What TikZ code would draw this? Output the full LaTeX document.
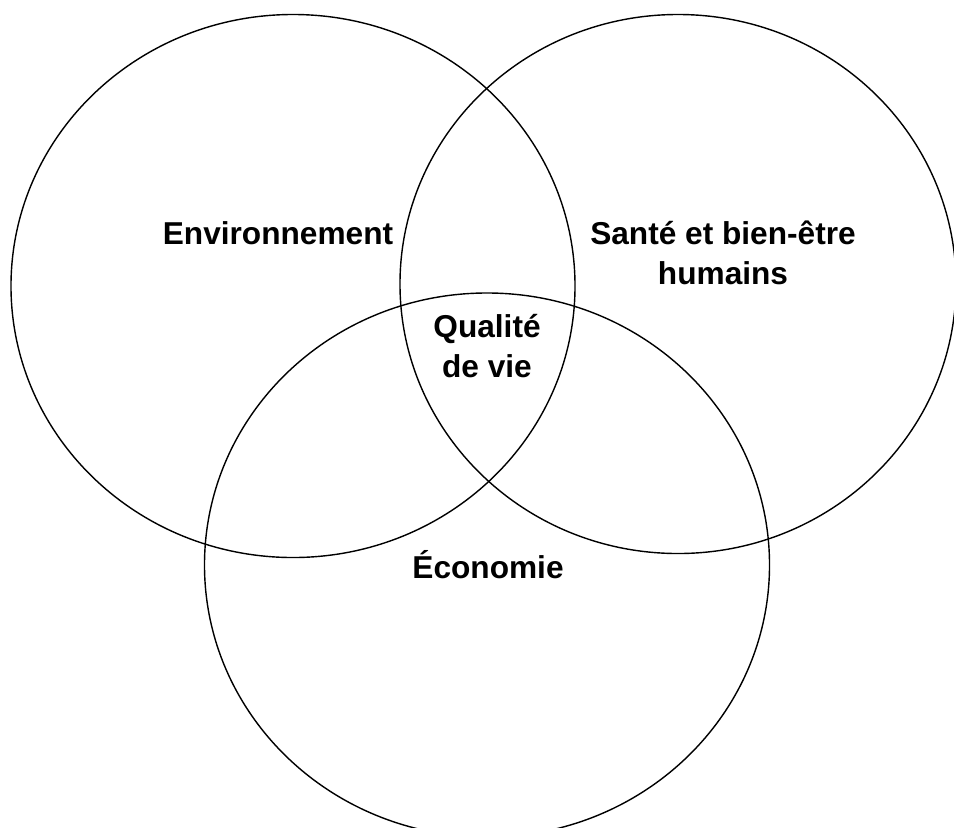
\documentclass[tikz,border=0pt]{standalone}
\usepackage{fontspec}
\setmainfont{Liberation Sans}
\usetikzlibrary{shapes.geometric,positioning}
\tikzstyle{venn} = [ellipse, draw, line width=1.2pt, inner sep=0pt, outer sep=0pt]
\tikzstyle{label} = [align=center, font=\fontsize{27}{34}\selectfont\bfseries]

\begin{document}
\begin{tikzpicture}[x=0.03cm, y=-0.03cm]
\useasboundingbox[clip] (0,0) rectangle (954,827);
\node[venn, minimum width=16.92cm, minimum height=16.29cm] (env) at (293,286) {};
\node[venn, minimum width=16.68cm, minimum height=16.17cm] (sante) at (678,284) {};
\node[venn, minimum width=16.95cm, minimum height=16.32cm] (eco) at (487,565) {};
\node[label] (envtxt) at (278,233) {Environnement};
\node[label] (santetxt) at (723,253) {Santé et bien-être\\humains};
\node[label] (qualite) at (487,346) {Qualité\\de vie};
\node[label] (ecotxt) at (488,565) {Économie};
\end{tikzpicture}
\end{document}
